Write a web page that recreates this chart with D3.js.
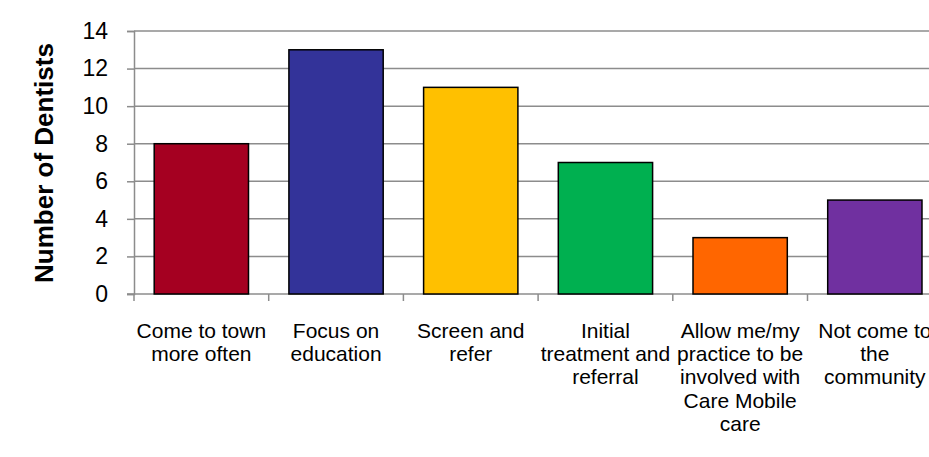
<!DOCTYPE html>
<html>
<head>
<meta charset="utf-8">
<script src="https://cdn.jsdelivr.net/npm/d3@7"></script>
<style>
  html, body { margin: 0; padding: 0; background: #fff; }
  svg { display: block; font-family: "Liberation Sans", Arial, sans-serif; }
</style>
</head>
<body>
<svg id="chart" width="929" height="457"></svg>
<script>
// chart data
var categories = [
  "Come to town\nmore often",
  "Focus on\neducation",
  "Screen and\nrefer",
  "Initial\ntreatment and\nreferral",
  "Allow me/my\npractice to be\ninvolved with\nCare Mobile\ncare",
  "Not come to\nthe\ncommunity"
];
var values = [8, 13, 11, 7, 3, 5];
var colors = ["#A50021", "#333399", "#FFC000", "#00B050", "#FF6600", "#7030A0"];
var yTicks = [0, 2, 4, 6, 8, 10, 12, 14];
var yTitle = "Number of Dentists";

var svg = d3.select("#chart"),
  width = +svg.attr("width"),
  height = +svg.attr("height");

var plotLeft = 134, plotTop = 31, plotBottom = 294;
var bandW = 134.7;

var x = d3.scaleBand()
  .domain(d3.range(categories.length))
  .range([plotLeft, plotLeft + bandW * categories.length])
  .paddingInner(0.3)
  .paddingOuter(0.15);

var y = d3.scaleLinear()
  .domain([0, 14])
  .range([plotBottom, plotTop]);

var gridColor = "#8c8c8c";

// gridlines
svg.append("g")
  .selectAll("line")
  .data(yTicks.filter(function (d) { return d > 0; }))
  .enter().append("line")
    .attr("x1", plotLeft)
    .attr("x2", width)
    .attr("y1", function (d) { return y(d); })
    .attr("y2", function (d) { return y(d); })
    .attr("stroke", gridColor)
    .attr("stroke-width", 1.5);

// y axis
var yAxis = svg.append("g")
  .attr("transform", "translate(" + plotLeft + ",0)")
  .call(d3.axisLeft(y).tickValues(yTicks).tickSize(7).tickPadding(19));
yAxis.select(".domain").attr("stroke", gridColor).attr("stroke-width", 1.5);
yAxis.selectAll(".tick line").attr("stroke", gridColor).attr("stroke-width", 1.5);
yAxis.selectAll(".tick text")
  .attr("font-size", 23)
  .attr("font-family", "Liberation Sans, Arial, sans-serif")
  .attr("fill", "#000");

// x axis line and ticks between categories
var xAxis = svg.append("g");
xAxis.append("line")
  .attr("x1", plotLeft - 7).attr("x2", width)
  .attr("y1", plotBottom).attr("y2", plotBottom)
  .attr("stroke", gridColor).attr("stroke-width", 1.5);
xAxis.selectAll("line.tk")
  .data(d3.range(categories.length + 1))
  .enter().append("line")
    .attr("class", "tk")
    .attr("x1", function (d) { return plotLeft + d * x.step(); })
    .attr("x2", function (d) { return plotLeft + d * x.step(); })
    .attr("y1", plotBottom)
    .attr("y2", plotBottom + 7)
    .attr("stroke", gridColor)
    .attr("stroke-width", 1.5);

// bars
svg.append("g")
  .selectAll("rect")
  .data(values)
  .enter().append("rect")
    .attr("x", function (d, i) { return x(i); })
    .attr("y", function (d) { return y(d); })
    .attr("width", x.bandwidth())
    .attr("height", function (d) { return y(0) - y(d); })
    .attr("fill", function (d, i) { return colors[i]; })
    .attr("stroke", "#000")
    .attr("stroke-width", 1.5);

// category labels
svg.append("g")
  .selectAll("text")
  .data(categories)
  .enter().append("text")
    .attr("text-anchor", "middle")
    .attr("font-size", 21)
    .attr("fill", "#000")
    .attr("transform", function (d, i) {
      return "translate(" + (x(i) + x.bandwidth() / 2) + ",338)";
    })
    .each(function (d) {
      var t = d3.select(this);
      d.split("\n").forEach(function (line, k) {
        t.append("tspan")
          .attr("x", 0)
          .attr("y", k * 23.2)
          .text(line);
      });
    });

// y axis title
svg.append("text")
  .attr("transform", "translate(53,163) rotate(-90)")
  .attr("text-anchor", "middle")
  .attr("font-size", 26)
  .attr("font-weight", "bold")
  .attr("fill", "#000")
  .text(yTitle);
</script>
</body>
</html>
